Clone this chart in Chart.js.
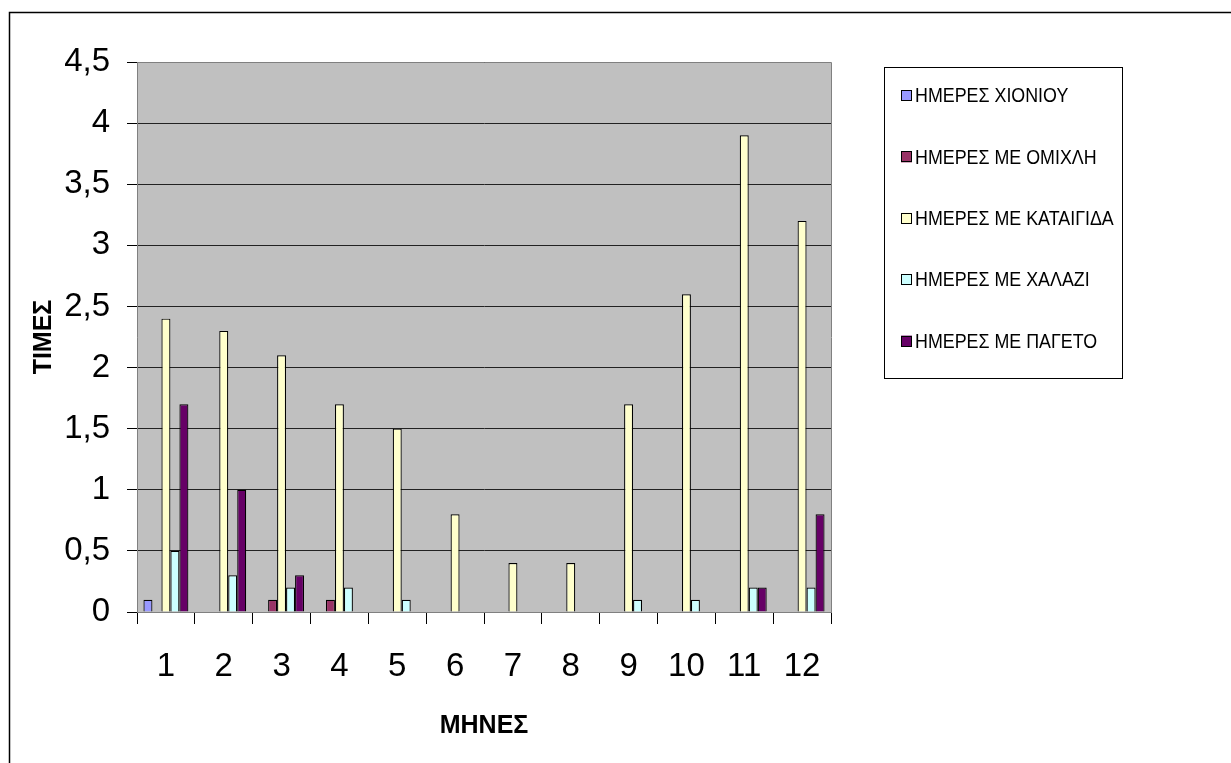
<!DOCTYPE html>
<html>
<head>
<meta charset="utf-8">
<script src="https://cdn.jsdelivr.net/npm/chart.js@4.4.1/dist/chart.umd.min.js"></script>
<style>
  html, body { margin: 0; padding: 0; background: #fff; }
  canvas { display: block; }
</style>
</head>
<body>
<canvas id="c" width="1231" height="763"></canvas>
<script>
const months = ['1','2','3','4','5','6','7','8','9','10','11','12'];
const seriesNames = ['ΗΜΕΡΕΣ ΧΙΟΝΙΟΥ','ΗΜΕΡΕΣ ΜΕ ΟΜΙΧΛΗ','ΗΜΕΡΕΣ ΜΕ ΚΑΤΑΙΓΙΔΑ','ΗΜΕΡΕΣ ΜΕ ΧΑΛΑΖΙ','ΗΜΕΡΕΣ ΜΕ ΠΑΓΕΤΟ'];
const snowDays  = [0.1, 0,   0,   0,   0,   0,   0,   0,   0,   0,   0,   0];
const fogDays   = [0,   0,   0.1, 0.1, 0,   0,   0,   0,   0,   0,   0,   0];
const stormDays = [2.4, 2.3, 2.1, 1.7, 1.5, 0.8, 0.4, 0.4, 1.7, 2.6, 3.9, 3.2];
const hailDays  = [0.5, 0.3, 0.2, 0.2, 0.1, 0,   0,   0,   0.1, 0.1, 0.2, 0.2];
const frostDays = [1.7, 1.0, 0.3, 0,   0,   0,   0,   0,   0,   0,   0.2, 0.8];
const yTicks = [0, 0.5, 1, 1.5, 2, 2.5, 3, 3.5, 4, 4.5];
const colors = ['#9999FF', '#993366', '#FFFFCC', '#CCFFFF', '#660066'];
const xTitle = 'ΜΗΝΕΣ';
const yTitle = 'ΤΙΜΕΣ';

const FONT = "'Liberation Sans', Arial, sans-serif";

const frame = {
  id: 'frame',
  beforeDraw(chart) {
    const ctx = chart.ctx, a = chart.chartArea;
    ctx.save();
    ctx.fillStyle = '#fff';
    ctx.fillRect(0, 0, chart.width, chart.height);
    ctx.strokeStyle = '#000';
    ctx.lineWidth = 1.5;
    ctx.strokeRect(9.5, 12.5, chart.width + 20, chart.height + 20);
    ctx.fillStyle = '#C0C0C0';
    ctx.fillRect(a.left, a.top, a.right - a.left, a.bottom - a.top);
    ctx.restore();
  },
  afterDraw(chart) {
    const ctx = chart.ctx, a = chart.chartArea;
    ctx.save();
    ctx.strokeStyle = '#808080';
    ctx.lineWidth = 1;
    ctx.beginPath();
    ctx.moveTo(Math.round(a.left) + 0.5, Math.round(a.top) + 0.5);
    ctx.lineTo(Math.round(a.right) + 0.5, Math.round(a.top) + 0.5);
    ctx.lineTo(Math.round(a.right) + 0.5, Math.round(a.bottom) + 0.5);
    ctx.stroke();
    // legend
    const L = { left: 884.5, top: 67.5, right: 1122.5, bottom: 378.5 };
    ctx.strokeStyle = '#000';
    ctx.strokeRect(L.left, L.top, L.right - L.left, L.bottom - L.top);
    chart.data.datasets.forEach((ds, i) => {
      const cy = 95.5 + i * 61.4;
      ctx.fillStyle = ds.backgroundColor;
      ctx.fillRect(901, cy - 5.5, 11, 11);
      ctx.strokeStyle = '#000';
      ctx.lineWidth = 1;
      ctx.strokeRect(901.5, Math.round(cy - 5.5) + 0.5, 10, 10);
      ctx.save();
      ctx.translate(915, cy);
      ctx.scale(0.85, 1);
      ctx.fillStyle = '#000';
      ctx.font = '21px ' + FONT;
      ctx.textBaseline = 'middle';
      ctx.textAlign = 'left';
      ctx.fillText(ds.label, 0, 1);
      ctx.restore();
    });
    ctx.restore();
  }
};

const allSeries = [snowDays, fogDays, stormDays, hailDays, frostDays];
const datasets = allSeries.map((d, i) => ({
  label: seriesNames[i],
  data: d,
  backgroundColor: colors[i],
  borderColor: '#000',
  borderWidth: (c) => (c.raw ? 1.2 : 0),
  borderSkipped: 'bottom',
  categoryPercentage: 0.777,
  barPercentage: 1.0
}));

new Chart(document.getElementById('c'), {
  type: 'bar',
  data: { labels: months, datasets },
  options: {
    responsive: false,
    devicePixelRatio: 1,
    animation: false,
    layout: { padding: { left: 0, top: 62, right: 400, bottom: 0 } },
    plugins: { legend: { display: false }, tooltip: { enabled: false } },
    scales: {
      x: {
        offset: true,
        grid: { offset: true, drawOnChartArea: false, drawTicks: true, tickLength: 12, color: '#000', lineWidth: 1 },
        border: { display: true, color: '#808080', width: 1 },
        ticks: { color: '#000', font: { family: FONT, size: 33 }, padding: 23, maxRotation: 0 },
        title: { display: true, text: xTitle, color: '#000', font: { family: FONT, size: 25, weight: 'bold' }, padding: { top: 22, bottom: 22 } },
        afterFit(s) { s.height = 763 - 612; }
      },
      y: {
        min: 0, max: 4.5,
        afterBuildTicks(s) { s.ticks = yTicks.map(v => ({ value: v })); },
        grid: { color: '#222', lineWidth: 1, drawTicks: true, tickLength: 10, tickColor: '#000' },
        border: { display: true, color: '#808080', width: 1 },
        ticks: { color: '#000', font: { family: FONT, size: 33 }, padding: 17,
          callback: (v) => String(v).replace('.', ',') },
        title: { display: true, text: yTitle, color: '#000', font: { family: FONT, size: 25, weight: 'bold' }, padding: { top: 29, bottom: 29 } },
        afterFit(s) { s.width = 137; }
      }
    }
  },
  plugins: [frame]
});
</script>
</body>
</html>
